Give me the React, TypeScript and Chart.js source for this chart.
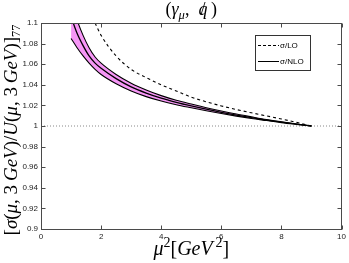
import React, { useEffect, useRef } from "react";
import { Chart, registerables } from "chart.js";

Chart.register(...registerables);

// ---- data ----
const muLO = [1.8, 2.0, 2.5, 3.0, 3.5, 4.0, 4.5, 5.0, 5.5, 6.0, 6.5, 7.0, 7.5, 8.0, 8.5, 9.0];
const sigmaLO = [1.1, 1.088, 1.068, 1.055, 1.047, 1.04, 1.034, 1.028, 1.0235, 1.0195, 1.016, 1.0128, 1.0098, 1.0068, 1.0035, 1.0];

const muNLO = [1.0, 1.2, 1.4, 1.6, 1.8, 2.0, 2.5, 3.0, 3.5, 4.0, 4.5, 5.0, 5.5, 6.0, 6.5, 7.0, 7.5, 8.0, 8.5, 9.0];
const sigmaNLO = [1.106, 1.09, 1.078, 1.068, 1.061, 1.056, 1.046, 1.038, 1.032, 1.027, 1.023, 1.0195, 1.0163, 1.0133, 1.0106, 1.0081, 1.0058, 1.0037, 1.0018, 1.0];
const sigmaNLOUpper = [1.124, 1.103, 1.088, 1.076, 1.067, 1.061, 1.05, 1.0415, 1.035, 1.0295, 1.025, 1.0213, 1.0178, 1.0146, 1.0116, 1.0089, 1.0063, 1.0041, 1.002, 1.0];
const sigmaNLOLower = [1.085, 1.076, 1.068, 1.061, 1.055, 1.05, 1.041, 1.034, 1.0285, 1.0242, 1.0207, 1.0177, 1.0148, 1.0121, 1.0096, 1.0073, 1.0053, 1.0033, 1.0016, 1.0];

const refX = [0, 10];
const refY = [1, 1];

const xRange = [0, 10];
const xStep = 2;
const yRange = [0.9, 1.1];
const yStep = 0.02;

const legendLabels = ["σ/LO", "σ/NLO"];

const SERIF = '"Liberation Serif", "Times New Roman", serif';
const SANS = '"Liberation Sans", Arial, sans-serif';

type Run = { t: string; it?: boolean; s?: number; dy?: number; overlay?: boolean };

function runsWidth(ctx: CanvasRenderingContext2D, runs: Run[], size: number) {
  let w = 0;
  for (const r of runs) {
    ctx.font = `${r.it ? "italic " : ""}${size * (r.s ?? 1)}px ${SERIF}`;
    if (!r.overlay) w += ctx.measureText(r.t).width;
  }
  return w;
}

function drawRuns(ctx: CanvasRenderingContext2D, runs: Run[], size: number, cx: number, y: number) {
  const total = runsWidth(ctx, runs, size);
  let x = cx - total / 2;
  let lastX = x;
  let lastW = 0;
  ctx.textAlign = "left";
  ctx.textBaseline = "alphabetic";
  for (const r of runs) {
    ctx.font = `${r.it ? "italic " : ""}${size * (r.s ?? 1)}px ${SERIF}`;
    const w = ctx.measureText(r.t).width;
    if (r.overlay) {
      ctx.fillText(r.t, lastX + lastW / 2 - w / 2, y + (r.dy ?? 0) * size);
    } else {
      ctx.fillText(r.t, x, y + (r.dy ?? 0) * size);
      lastX = x;
      lastW = w;
      x += w;
    }
  }
}

const titleRuns: Run[] = [
  { t: "(" },
  { t: "γ", it: true },
  { t: "μ", it: true, s: 0.7, dy: 0.22 },
  { t: ",\u2002" },
  { t: "q", it: true },
  { t: "/", overlay: true },
  { t: "\u2009)" },
];

const yTitleRuns: Run[] = [
  { t: "[" },
  { t: "σ", it: true },
  { t: "(" },
  { t: "μ", it: true },
  { t: ", 3\u2009" },
  { t: "GeV", it: true },
  { t: ")/" },
  { t: "U", it: true },
  { t: "(" },
  { t: "μ", it: true },
  { t: ", 3\u2009" },
  { t: "GeV", it: true },
  { t: ")]" },
  { t: "77", s: 0.65, dy: 0.2 },
];

const xTitleRuns: Run[] = [
  { t: "μ", it: true },
  { t: "2", s: 0.7, dy: -0.4 },
  { t: "[" },
  { t: "GeV", it: true },
  { t: "\u20092", s: 0.7, dy: -0.4 },
  { t: "]" },
];

const decorPlugin = {
  id: "decor",
  afterDraw(chart: any) {
    const { ctx, chartArea: a, scales } = chart;
    const L = Math.round(a.left) + 0.5;
    const R = Math.round(a.right) - 0.5;
    const T = Math.round(a.top) + 0.5;
    const B = Math.round(a.bottom) + 0.5;
    ctx.save();
    // frame
    ctx.strokeStyle = "#4a4a4a";
    ctx.lineWidth = 1;
    ctx.setLineDash([]);
    ctx.strokeRect(L, T, R - L, B - T);
    // inward ticks
    const tl = 4;
    ctx.beginPath();
    for (const t of scales.x.ticks) {
      const px = Math.round(scales.x.getPixelForValue(t.value)) + 0.5;
      ctx.moveTo(px, B);
      ctx.lineTo(px, B - tl);
      ctx.moveTo(px, T);
      ctx.lineTo(px, T + tl);
    }
    for (const t of scales.y.ticks) {
      const py = Math.round(scales.y.getPixelForValue(t.value)) + 0.5;
      ctx.moveTo(L, py);
      ctx.lineTo(L + tl, py);
      ctx.moveTo(R, py);
      ctx.lineTo(R - tl, py);
    }
    ctx.stroke();

    // legend
    const lx = 255.5, ly = 35.5, lw = 55, lh = 35;
    ctx.fillStyle = "#ffffff";
    ctx.fillRect(lx, ly, lw, lh);
    ctx.strokeStyle = "#333";
    ctx.strokeRect(lx, ly, lw, lh);
    ctx.strokeStyle = "#000";
    ctx.lineWidth = 1;
    ctx.setLineDash([3, 2]);
    ctx.beginPath();
    ctx.moveTo(258, 45.5);
    ctx.lineTo(279, 45.5);
    ctx.stroke();
    ctx.setLineDash([]);
    ctx.beginPath();
    ctx.moveTo(258, 61.5);
    ctx.lineTo(279, 61.5);
    ctx.stroke();
    ctx.fillStyle = "#000";
    ctx.font = `8px ${SANS}`;
    ctx.textAlign = "left";
    ctx.textBaseline = "middle";
    ctx.fillText(legendLabels[0], 280, 46);
    ctx.fillText(legendLabels[1], 280, 62);

    // titles
    ctx.fillStyle = "#000";
    drawRuns(ctx, titleRuns, 18, (a.left + a.right) / 2, 15);
    drawRuns(ctx, xTitleRuns, 20, (a.left + a.right) / 2, 255);
    ctx.save();
    ctx.translate(16.5, 130);
    ctx.rotate(-Math.PI / 2);
    drawRuns(ctx, yTitleRuns, 19, 0, 0);
    ctx.restore();
    ctx.restore();
  },
};

function pts(xs: number[], ys: number[]) {
  return xs.map((x, i) => ({ x, y: ys[i] }));
}

export default function App() {
  const ref = useRef<HTMLCanvasElement | null>(null);
  useEffect(() => {
    document.body.style.margin = "0";
    const canvas = ref.current!;
    const chart = new Chart(canvas, {
      type: "line",
      data: {
        datasets: [
          {
            label: "upper",
            data: pts(muNLO, sigmaNLOUpper),
            borderColor: "#000",
            borderWidth: 1.1,
            backgroundColor: "rgb(246,150,246)",
            fill: 2,
            pointRadius: 0,
            cubicInterpolationMode: "monotone",
          },
          {
            label: legendLabels[1],
            data: pts(muNLO, sigmaNLO),
            borderColor: "#000",
            borderWidth: 1.3,
            fill: false,
            pointRadius: 0,
            cubicInterpolationMode: "monotone",
          },
          {
            label: "lower",
            data: pts(muNLO, sigmaNLOLower),
            borderColor: "#000",
            borderWidth: 1.1,
            fill: false,
            pointRadius: 0,
            cubicInterpolationMode: "monotone",
          },
          {
            label: legendLabels[0],
            data: pts(muLO, sigmaLO),
            borderColor: "#000",
            borderWidth: 1.1,
            borderDash: [3, 3],
            fill: false,
            pointRadius: 0,
            cubicInterpolationMode: "monotone",
          },
          {
            label: "ref",
            data: pts(refX, refY),
            borderColor: "#888",
            borderWidth: 1,
            borderDash: [1, 2],
            fill: false,
            pointRadius: 0,
          },
        ],
      },
      options: {
        animation: false,
        responsive: true,
        maintainAspectRatio: false,
        events: [],
        layout: { padding: { top: 23, right: 5, left: 0, bottom: 0 } },
        plugins: {
          legend: { display: false },
          title: { display: false },
          tooltip: { enabled: false },
          filler: { drawTime: "beforeDatasetsDraw" },
        } as any,
        scales: {
          x: {
            type: "linear",
            min: xRange[0],
            max: xRange[1],
            ticks: {
              stepSize: xStep,
              padding: 3,
              color: "#222",
              font: { family: SANS, size: 8 },
              maxRotation: 0,
            },
            grid: { display: false, drawTicks: false },
            border: { display: false },
            afterFit: (s: any) => {
              s.height = 34;
            },
          },
          y: {
            type: "linear",
            min: yRange[0],
            max: yRange[1],
            ticks: {
              stepSize: yStep,
              padding: 3,
              color: "#222",
              font: { family: SANS, size: 8 },
              callback: (v: any) => String(Number(Number(v).toFixed(2))),
            },
            grid: { display: false, drawTicks: false },
            border: { display: false },
            afterFit: (s: any) => {
              s.width = 41;
            },
          },
        },
      },
      plugins: [decorPlugin],
    });
    return () => chart.destroy();
  }, []);
  return (
    <div style={{ width: 349, height: 263, position: "relative" }}>
      <canvas ref={ref} />
    </div>
  );
}
